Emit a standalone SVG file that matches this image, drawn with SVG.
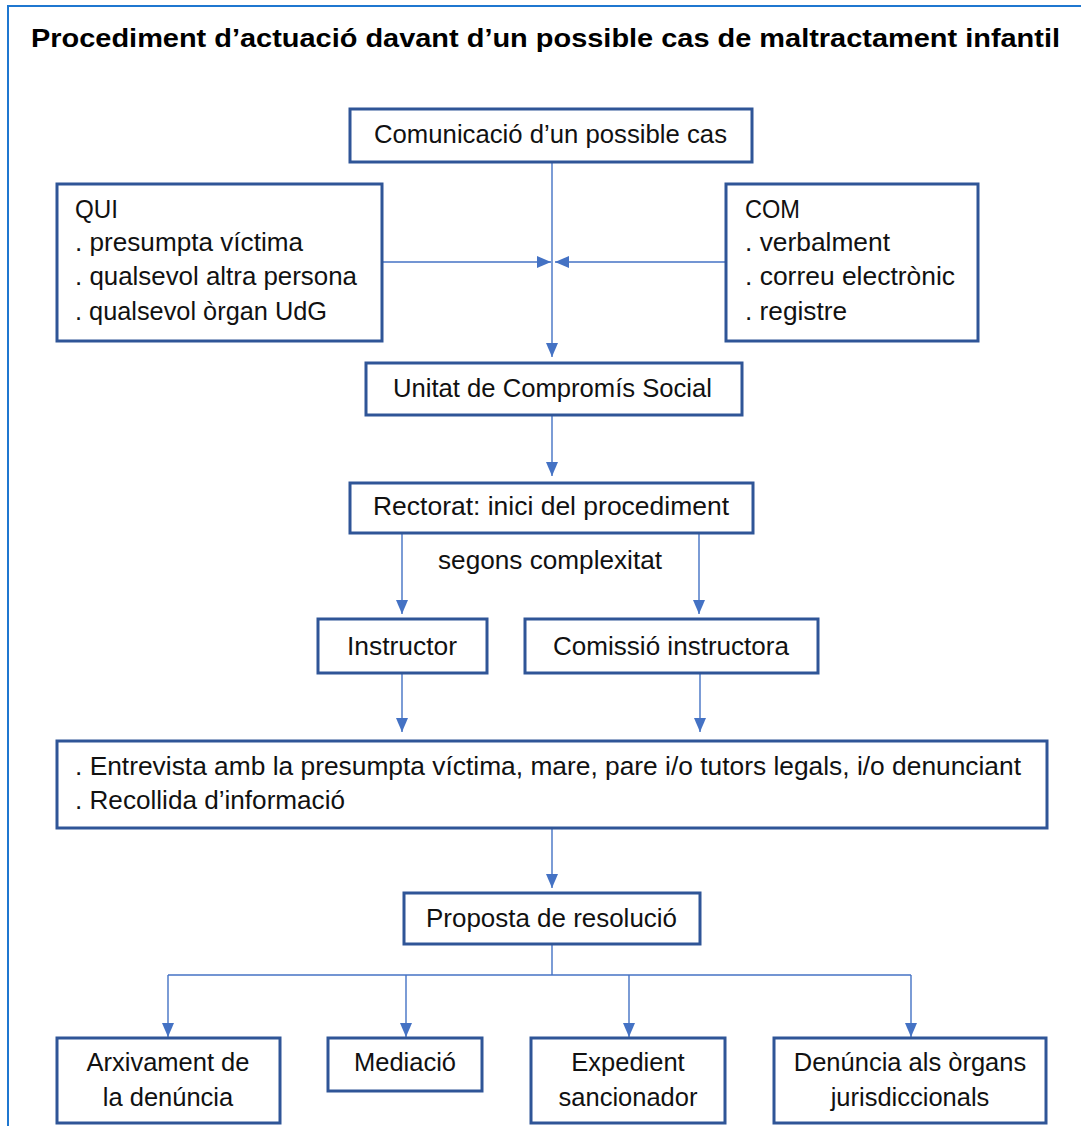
<svg xmlns="http://www.w3.org/2000/svg" width="1081" height="1126" viewBox="0 0 1081 1126">
<style>
.box{fill:#fff;stroke:#2f5597;stroke-width:3}
.t{font-family:"Liberation Sans",Arial,sans-serif;font-size:25.5px;fill:#111}
.c{text-anchor:middle}
.title{font-family:"Liberation Sans",Arial,sans-serif;font-size:26px;font-weight:bold;fill:#000}
.ln{fill:none;stroke:#4472c4;stroke-width:1.4}
.arr{marker-end:url(#ah)}
</style>
<defs>
<marker id="ah" viewBox="0 0 14 12" refX="14" refY="6" markerWidth="14" markerHeight="12" markerUnits="userSpaceOnUse" orient="auto">
<path d="M0,0 L14,6 L0,12 z" fill="#4472c4"/>
</marker>
</defs>
<rect width="1081" height="1126" fill="#fff"/>
<rect x="8" y="6" width="1090" height="1140" fill="none" stroke="#1f77d0" stroke-width="2"/>
<text class="title" x="31" y="47" textLength="1029" lengthAdjust="spacingAndGlyphs">Procediment d’actuació  davant d’un possible cas de maltractament infantil</text>

<g id="connectors">
<line class="ln arr" x1="552" y1="162" x2="552" y2="357"/>
<line class="ln arr" x1="382" y1="262" x2="551" y2="262"/>
<line class="ln arr" x1="726" y1="262" x2="555" y2="262"/>
<line class="ln arr" x1="552" y1="415" x2="552" y2="476"/>
<line class="ln arr" x1="402" y1="533" x2="402" y2="614"/>
<line class="ln arr" x1="699" y1="533" x2="699" y2="614"/>
<line class="ln arr" x1="402" y1="673" x2="402" y2="732"/>
<line class="ln arr" x1="700" y1="673" x2="700" y2="732"/>
<line class="ln arr" x1="552" y1="828" x2="552" y2="888"/>
<polyline class="ln" points="552,944 552,975"/>
<polyline class="ln" points="168,975 911,975"/>
<line class="ln arr" x1="168" y1="975" x2="168" y2="1037"/>
<line class="ln arr" x1="406" y1="975" x2="406" y2="1037"/>
<line class="ln arr" x1="629" y1="975" x2="629" y2="1037"/>
<line class="ln arr" x1="911" y1="975" x2="911" y2="1037"/>
</g>

<g id="comunicacio">
<rect class="box" x="350" y="109" width="402" height="53"/>
<text class="t" x="374" y="143" textLength="353" lengthAdjust="spacingAndGlyphs">Comunicació d’un possible cas</text>
</g>
<g id="qui">
<rect class="box" x="57" y="184" width="325" height="157"/>
<text class="t" x="75" y="218" textLength="43" lengthAdjust="spacingAndGlyphs">QUI</text>
<text class="t" x="75" y="251" textLength="228" lengthAdjust="spacingAndGlyphs">. presumpta víctima</text>
<text class="t" x="75" y="285" textLength="282" lengthAdjust="spacingAndGlyphs">. qualsevol altra persona</text>
<text class="t" x="75" y="320" textLength="252" lengthAdjust="spacingAndGlyphs">. qualsevol òrgan UdG</text>
</g>
<g id="com">
<rect class="box" x="726" y="184" width="252" height="157"/>
<text class="t" x="745" y="218" textLength="55" lengthAdjust="spacingAndGlyphs">COM</text>
<text class="t" x="745" y="251" textLength="145" lengthAdjust="spacingAndGlyphs">. verbalment</text>
<text class="t" x="745" y="285" textLength="210" lengthAdjust="spacingAndGlyphs">. correu electrònic</text>
<text class="t" x="745" y="320" textLength="102" lengthAdjust="spacingAndGlyphs">. registre</text>
</g>
<g id="unitat">
<rect class="box" x="366" y="363" width="376" height="52"/>
<text class="t" x="393" y="397" textLength="319" lengthAdjust="spacingAndGlyphs">Unitat de Compromís Social</text>
</g>
<g id="rectorat">
<rect class="box" x="350" y="483" width="403" height="50"/>
<text class="t" x="373" y="515" textLength="356" lengthAdjust="spacingAndGlyphs">Rectorat: inici del procediment</text>
</g>
<g id="segons">
<text class="t" x="438" y="569" textLength="224" lengthAdjust="spacingAndGlyphs">segons complexitat</text>
</g>
<g id="instructor">
<rect class="box" x="318" y="619" width="169" height="54"/>
<text class="t" x="347" y="655" textLength="110" lengthAdjust="spacingAndGlyphs">Instructor</text>
</g>
<g id="comissio">
<rect class="box" x="525" y="619" width="293" height="54"/>
<text class="t" x="553" y="655" textLength="236" lengthAdjust="spacingAndGlyphs">Comissió instructora</text>
</g>
<g id="entrevista">
<rect class="box" x="57" y="741" width="990" height="87"/>
<text class="t" x="75" y="775" textLength="946" lengthAdjust="spacingAndGlyphs">. Entrevista amb la presumpta víctima, mare, pare i/o tutors legals, i/o denunciant</text>
<text class="t" x="75" y="809" textLength="270" lengthAdjust="spacingAndGlyphs">. Recollida d’informació</text>
</g>
<g id="proposta">
<rect class="box" x="404" y="893" width="296" height="51"/>
<text class="t" x="426" y="927" textLength="251" lengthAdjust="spacingAndGlyphs">Proposta de resolució</text>
</g>
<g id="arxivament">
<rect class="box" x="57" y="1038" width="223" height="85"/>
<text class="t c" x="168" y="1071">Arxivament de</text>
<text class="t c" x="168" y="1106">la denúncia</text>
</g>
<g id="mediacio">
<rect class="box" x="328" y="1038" width="154" height="53"/>
<text class="t c" x="405" y="1071">Mediació</text>
</g>
<g id="expedient">
<rect class="box" x="531" y="1038" width="194" height="85"/>
<text class="t c" x="628" y="1071">Expedient</text>
<text class="t c" x="628" y="1106">sancionador</text>
</g>
<g id="denuncia">
<rect class="box" x="774" y="1038" width="272" height="85"/>
<text class="t c" x="910" y="1071">Denúncia als òrgans</text>
<text class="t c" x="910" y="1106">jurisdiccionals</text>
</g>
</svg>
